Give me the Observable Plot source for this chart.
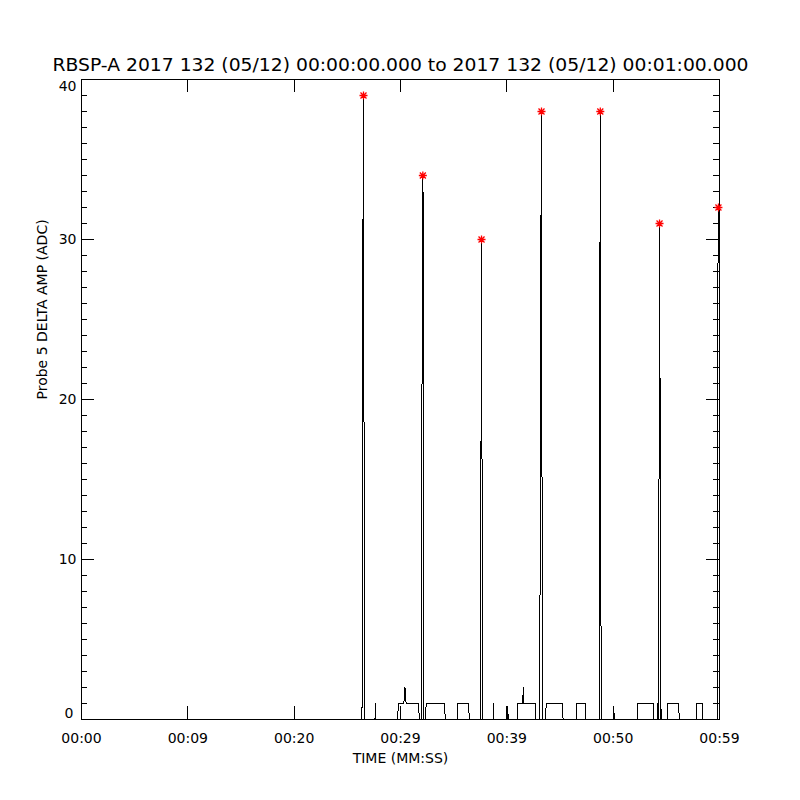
<!DOCTYPE html>
<html><head><meta charset="utf-8">
<script src="https://cdn.jsdelivr.net/npm/d3@7"></script>
<script src="https://cdn.jsdelivr.net/npm/@observablehq/plot@0.6"></script>
<style>body{margin:0;background:#fff}</style>
</head><body><div id="chart"></div>
<script>
const titleText = "RBSP-A 2017 132 (05/12) 00:00:00.000 to 2017 132 (05/12) 00:01:00.000";
const xTitle = "TIME (MM:SS)";
const yTitle = "Probe 5 DELTA AMP (ADC)";

// time (s) and amplitude (ADC) samples
const times = [0, 26.38, 26.39, 26.44, 26.52, 26.60, 26.61,
  27.60, 27.63, 27.65, 27.67,
  29.74, 29.75, 29.84, 30.31, 30.36, 30.42, 30.53, 31.72, 31.73, 31.81,
  32.00, 32.01, 32.10, 32.17, 32.19,
  32.35, 32.36, 32.44, 34.16, 34.17, 34.23,
  35.39, 35.40, 36.42, 36.43, 36.52,
  37.55, 37.56, 37.62, 37.67, 37.69,
  38.70, 38.73, 38.75, 38.77,
  40.09, 40.10, 40.12,
  41.03, 41.04, 41.50, 41.54, 41.60, 42.72, 42.73,
  43.10, 43.12, 43.18, 43.26, 43.33, 43.35,
  43.64, 43.65, 43.73, 45.21, 45.22, 45.30,
  46.55, 46.56, 47.42, 47.43,
  48.67, 48.69, 48.75, 48.79, 48.86, 48.88,
  50.06, 50.07, 50.09,
  52.26, 52.27, 52.31, 53.82, 53.83,
  54.14, 54.15, 54.17,
  54.29, 54.30, 54.33, 54.36, 54.44, 54.45, 54.57, 54.59,
  55.08, 55.09, 55.13, 56.17, 56.18, 56.24,
  57.81, 57.82, 58.37, 58.38,
  59.84, 59.85, 59.86, 59.90, 59.96, 60.00];
const amps = [0, 0, 5.5, 25, 39, 5, 0,
  0, 0.5, 1, 0,
  0, 0.45, 1, 1, 1.4, 2, 1, 1, 0.5, 0,
  0, 18.5, 34, 29.5, 0,
  0, 0.6, 1, 1, 0.5, 0,
  0, 1, 1, 0.5, 0,
  0, 14, 30, 15, 0,
  0, 0.5, 1, 0,
  0, 0.8, 0,
  0, 1, 1, 2, 1, 1, 0,
  0, 7.4, 26.4, 38, 4.5, 0,
  0, 0.5, 1, 1, 0.5, 0,
  0, 1, 1, 0,
  0, 6.5, 25.5, 38, 4.4, 0,
  0, 0.8, 0,
  0, 0.5, 1, 1, 0,
  0, 1, 0,
  0, 14, 16.4, 31, 14, 0, 0.6, 0,
  0, 0.5, 1, 1, 0.5, 0,
  0, 1, 1, 0,
  0, 16.5, 28.4, 32, 28.4, 16.5];

const peakTimes = [26.52, 32.10, 37.62, 43.26, 48.79, 54.36, 59.90];
const peakAmps = [39, 34, 30, 38, 38, 31, 32];

const xTickValues = [0, 10, 20, 30, 40, 50, 60];
const xTickLabels = ["00:00", "00:09", "00:20", "00:29", "00:39", "00:50", "00:59"];
const yMajor = [0, 10, 20, 30, 40];
const yMinor = d3.range(0, 41).filter(d => d % 10 !== 0);

const series = times.map((t, i) => ({t, v: amps[i]}));
const peaks = peakTimes.map((t, i) => ({t, v: peakAmps[i]}));

const asterisk = {
  draw(ctx, size) {
    const r = Math.sqrt(size / Math.PI), d = r * 0.75;
    ctx.moveTo(-r, 0); ctx.lineTo(r, 0);
    ctx.moveTo(0, -r); ctx.lineTo(0, r);
    ctx.moveTo(-d, -d); ctx.lineTo(d, d);
    ctx.moveTo(-d, d); ctx.lineTo(d, -d);
  }
};

const W = 800, H = 800, mL = 81, mR = 81, mT = 79, mB = 81;
const pw = W - mL - mR, ph = H - mT - mB;

const chart = Plot.plot({
  width: W, height: H,
  marginLeft: mL, marginRight: mR, marginTop: mT, marginBottom: mB,
  x: {domain: [0, 60], axis: null},
  y: {domain: [0, 40], axis: null},
  style: {fontFamily: "'DejaVu Sans', sans-serif", fontSize: "14px", background: "white", color: "black"},
  marks: [
    Plot.line(series, {x: "t", y: "v", stroke: "black", strokeWidth: 1, shapeRendering: "crispEdges"}),
    Plot.frame({stroke: "black", shapeRendering: "crispEdges"}),
    Plot.tickY(yMajor, {y: d => d, insetRight: pw - 13, stroke: "black", shapeRendering: "crispEdges"}),
    Plot.tickY(yMajor, {y: d => d, insetLeft: pw - 13, stroke: "black", shapeRendering: "crispEdges"}),
    Plot.tickY(yMinor, {y: d => d, insetRight: pw - 6, stroke: "black", shapeRendering: "crispEdges"}),
    Plot.tickY(yMinor, {y: d => d, insetLeft: pw - 6, stroke: "black", shapeRendering: "crispEdges"}),
    Plot.tickX(xTickValues, {x: d => d, insetTop: ph - 13, stroke: "black", shapeRendering: "crispEdges"}),
    Plot.tickX(xTickValues, {x: d => d, insetBottom: ph - 13, stroke: "black", shapeRendering: "crispEdges"}),
    Plot.dot(peaks, {x: "t", y: "v", symbol: asterisk, r: 4, stroke: "#ff0000", fill: "none", strokeWidth: 1.3}),
    Plot.dot(peaks, {x: "t", y: "v", r: 1.2, fill: "#ff0000", stroke: "none"}),
    Plot.text(xTickValues, {x: d => d, frameAnchor: "bottom", lineAnchor: "top", dy: 14,
      text: d => xTickLabels[xTickValues.indexOf(d)], fill: "black"}),
    Plot.text(yMajor.filter(d => d > 0 && d < 40), {y: d => d, frameAnchor: "left", textAnchor: "end", dx: -5, text: d => String(d), fill: "black"}),
    Plot.text(yMajor.filter(d => d === 0), {y: d => d, frameAnchor: "left", textAnchor: "end", dx: -8, dy: -6, text: d => String(d), fill: "black"}),
    Plot.text(yMajor.filter(d => d === 40), {y: d => d, frameAnchor: "left", textAnchor: "end", dx: -5, dy: 7, text: d => String(d), fill: "black"}),
    Plot.text([xTitle], {frameAnchor: "bottom", lineAnchor: "bottom", dy: 43, text: d => d, fill: "black"}),
    Plot.text([yTitle], {frameAnchor: "left", rotate: -90, dx: -39, text: d => d, fill: "black"}),
    Plot.text([titleText], {frameAnchor: "top", lineAnchor: "bottom", dy: -9, text: d => d, fontSize: 17, fill: "black", className: "main-title"})
  ]
});
// stretch the title to the reference's width
chart.querySelectorAll("text").forEach(t => {
  if (t.textContent === titleText) {
    t.setAttribute("textLength", 696);
    t.setAttribute("lengthAdjust", "spacingAndGlyphs");
  }
});
document.getElementById("chart").appendChild(chart);
</script>
</body></html>
